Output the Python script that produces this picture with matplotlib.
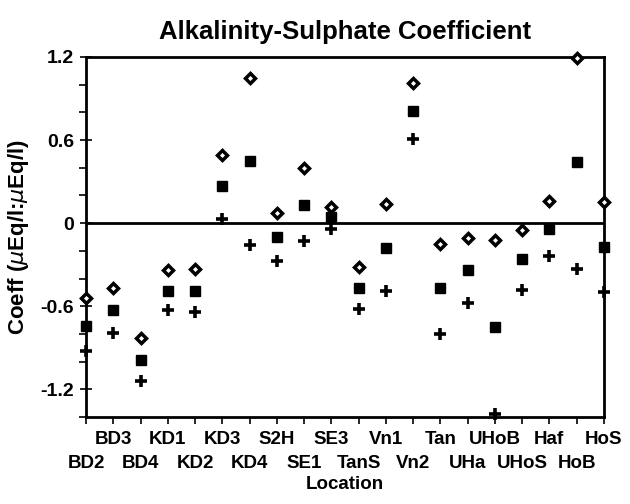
import numpy as np
import matplotlib.pyplot as plt
from matplotlib.ticker import MultipleLocator, FixedLocator

plt.rcParams['font.family'] = ['Liberation Sans', 'DejaVu Sans']

#data
locations = ["BD2", "BD3", "BD4", "KD1", "KD2", "KD3", "KD4", "S2H", "SE1", "SE3",
             "TanS", "Vn1", "Vn2", "Tan", "UHa", "UHoB", "UHoS", "Haf", "HoB", "HoS"]
upper = [-0.54, -0.47, -0.83, -0.34, -0.33, 0.49, 1.05, 0.07, 0.40, 0.12,
         -0.32, 0.135, 1.01, -0.15, -0.11, -0.12, -0.05, 0.16, 1.19, 0.15]
mean = [-0.74, -0.63, -0.99, -0.49, -0.49, 0.27, 0.45, -0.10, 0.13, 0.046,
        -0.47, -0.18, 0.81, -0.47, -0.34, -0.75, -0.26, -0.04, 0.44, -0.17]
lower = [-0.92, -0.79, -1.14, -0.63, -0.64, 0.03, -0.16, -0.27, -0.13, -0.04,
         -0.62, -0.49, 0.61, -0.80, -0.58, -1.38, -0.48, -0.24, -0.33, -0.50]

x = np.arange(1, len(locations) + 1)

fig = plt.figure(figsize=(6.3, 5.04), dpi=100)
ax = fig.add_axes([0.1365, 0.1726, 0.822, 0.7144])

ax.axhline(0, color='black', lw=2, zorder=1)

ax.plot(x, upper, 'D', ms=5, mfc='white', mec='black', mew=2.5, clip_on=False, zorder=3)
ax.plot(x, mean, 's', ms=7, color='black', clip_on=False, zorder=3)
ax.plot(x, lower, '+', ms=8, color='black', mew=2.6, clip_on=False, zorder=3)

ax.set_xlim(1, 20)
ax.set_ylim(-1.4, 1.2)

#y axis
ax.set_yticks([1.2, 0.6, 0, -0.6, -1.2])
ax.set_yticklabels(['1.2', '0.6', '0', '-0.6', '-1.2'], fontsize=14, fontweight='bold')
ax.yaxis.set_minor_locator(MultipleLocator(0.2))
ax.tick_params(axis='y', which='major', direction='inout', length=9, width=1.2, pad=4)
ax.tick_params(axis='y', which='minor', direction='out', length=5, width=1.2)

#x axis: staggered labels, top row on major ticks, bottom row on minor ticks
ax.xaxis.set_major_locator(FixedLocator(x[1::2]))
ax.xaxis.set_minor_locator(FixedLocator(x[0::2]))
ax.set_xticklabels(locations[1::2], fontsize=13.5, fontweight='bold')
ax.set_xticklabels(locations[0::2], minor=True, fontsize=13.5, fontweight='bold')
ax.tick_params(axis='x', which='major', direction='out', length=5, width=1.2, pad=5)
ax.tick_params(axis='x', which='minor', direction='out', length=5, width=1.2, pad=22)

for s in ax.spines.values():
    s.set_linewidth(2)

ax.set_xlabel('Location', fontsize=13.5, fontweight='bold', labelpad=3)
ax.set_ylabel(r'Coeff ($\mu$Eq/l:$\mu$Eq/l)', fontsize=16, fontweight='bold', labelpad=7)
ax.set_title('Alkalinity-Sulphate Coefficient', fontsize=18.5, fontweight='bold', pad=13)

fig.savefig('out.png', dpi=100)
